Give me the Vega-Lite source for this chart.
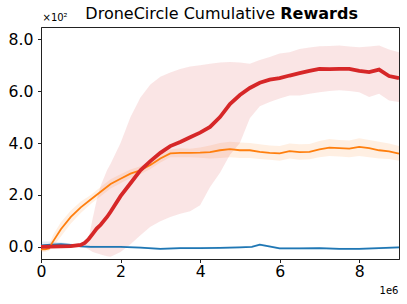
{
  "$schema": "https://vega.github.io/schema/vega-lite/v6.json",
  "width": 358,
  "height": 232,
  "autosize": "none",
  "padding": {"left": 41, "top": 27, "right": 8, "bottom": 45},
  "config": {
    "font": "DejaVu Sans",
    "view": {"stroke": "#222", "strokeWidth": 1},
    "axis": {"grid": false, "domainColor": "#222", "tickColor": "#222", "tickSize": 3.5, "labelFontSize": 15.7, "labelColor": "#000", "labelFont": "DejaVu Sans", "labelFlush": false, "title": null}
  },
  "datasets": {
    "runs": [
      {"s": "Blue", "x": 0, "y": 0.05, "lo": -0.1, "hi": 0.2},
      {"s": "Blue", "x": 0.25, "y": 0.08, "lo": -0.05, "hi": 0.2},
      {"s": "Blue", "x": 0.5, "y": 0.1, "lo": 0.0, "hi": 0.18},
      {"s": "Blue", "x": 0.75, "y": 0.07, "lo": 0.0, "hi": 0.13},
      {"s": "Blue", "x": 1.0, "y": 0.02, "lo": -0.03, "hi": 0.07},
      {"s": "Blue", "x": 1.25, "y": 0.0, "lo": -0.05, "hi": 0.05},
      {"s": "Blue", "x": 1.5, "y": 0.0, "lo": -0.04, "hi": 0.04},
      {"s": "Blue", "x": 2.0, "y": 0.0, "lo": -0.04, "hi": 0.04},
      {"s": "Blue", "x": 2.5, "y": -0.03, "lo": -0.07, "hi": 0.01},
      {"s": "Blue", "x": 3.0, "y": -0.08, "lo": -0.12, "hi": -0.04},
      {"s": "Blue", "x": 3.5, "y": -0.05, "lo": -0.09, "hi": -0.01},
      {"s": "Blue", "x": 4.0, "y": -0.05, "lo": -0.09, "hi": -0.01},
      {"s": "Blue", "x": 4.5, "y": -0.04, "lo": -0.08, "hi": 0.0},
      {"s": "Blue", "x": 5.0, "y": -0.02, "lo": -0.06, "hi": 0.02},
      {"s": "Blue", "x": 5.3, "y": 0.0, "lo": -0.04, "hi": 0.04},
      {"s": "Blue", "x": 5.5, "y": 0.08, "lo": 0.03, "hi": 0.13},
      {"s": "Blue", "x": 5.7, "y": 0.03, "lo": -0.01, "hi": 0.07},
      {"s": "Blue", "x": 6.0, "y": -0.06, "lo": -0.1, "hi": -0.02},
      {"s": "Blue", "x": 6.5, "y": -0.06, "lo": -0.1, "hi": -0.02},
      {"s": "Blue", "x": 7.0, "y": -0.05, "lo": -0.09, "hi": -0.01},
      {"s": "Blue", "x": 7.5, "y": -0.08, "lo": -0.12, "hi": -0.04},
      {"s": "Blue", "x": 8.0, "y": -0.08, "lo": -0.12, "hi": -0.04},
      {"s": "Blue", "x": 8.5, "y": -0.05, "lo": -0.09, "hi": -0.01},
      {"s": "Blue", "x": 9.0, "y": -0.02, "lo": -0.06, "hi": 0.02},

      {"s": "Orange", "x": 0, "y": -0.1, "lo": -0.2, "hi": 0.0},
      {"s": "Orange", "x": 0.1, "y": -0.1, "lo": -0.2, "hi": 0.0},
      {"s": "Orange", "x": 0.2, "y": -0.06, "lo": -0.15, "hi": 0.05},
      {"s": "Orange", "x": 0.3, "y": 0.2, "lo": 0.0, "hi": 0.45},
      {"s": "Orange", "x": 0.5, "y": 0.68, "lo": 0.4, "hi": 0.95},
      {"s": "Orange", "x": 0.75, "y": 1.15, "lo": 0.9, "hi": 1.4},
      {"s": "Orange", "x": 1.0, "y": 1.52, "lo": 1.3, "hi": 1.75},
      {"s": "Orange", "x": 1.25, "y": 1.82, "lo": 1.65, "hi": 2.0},
      {"s": "Orange", "x": 1.5, "y": 2.12, "lo": 1.95, "hi": 2.3},
      {"s": "Orange", "x": 1.75, "y": 2.42, "lo": 2.25, "hi": 2.6},
      {"s": "Orange", "x": 2.0, "y": 2.62, "lo": 2.45, "hi": 2.8},
      {"s": "Orange", "x": 2.25, "y": 2.82, "lo": 2.65, "hi": 2.98},
      {"s": "Orange", "x": 2.5, "y": 2.95, "lo": 2.8, "hi": 3.1},
      {"s": "Orange", "x": 2.75, "y": 3.15, "lo": 3.0, "hi": 3.3},
      {"s": "Orange", "x": 3.0, "y": 3.4, "lo": 3.25, "hi": 3.55},
      {"s": "Orange", "x": 3.25, "y": 3.6, "lo": 3.45, "hi": 3.75},
      {"s": "Orange", "x": 3.5, "y": 3.62, "lo": 3.45, "hi": 3.8},
      {"s": "Orange", "x": 3.75, "y": 3.62, "lo": 3.45, "hi": 3.78},
      {"s": "Orange", "x": 4.0, "y": 3.63, "lo": 3.43, "hi": 3.83},
      {"s": "Orange", "x": 4.25, "y": 3.65, "lo": 3.4, "hi": 3.9},
      {"s": "Orange", "x": 4.5, "y": 3.72, "lo": 3.42, "hi": 4.0},
      {"s": "Orange", "x": 4.75, "y": 3.76, "lo": 3.45, "hi": 4.05},
      {"s": "Orange", "x": 5.0, "y": 3.72, "lo": 3.42, "hi": 4.02},
      {"s": "Orange", "x": 5.25, "y": 3.72, "lo": 3.42, "hi": 4.0},
      {"s": "Orange", "x": 5.5, "y": 3.66, "lo": 3.38, "hi": 3.95},
      {"s": "Orange", "x": 5.75, "y": 3.62, "lo": 3.35, "hi": 3.9},
      {"s": "Orange", "x": 6.0, "y": 3.6, "lo": 3.32, "hi": 3.88},
      {"s": "Orange", "x": 6.25, "y": 3.69, "lo": 3.4, "hi": 3.98},
      {"s": "Orange", "x": 6.5, "y": 3.65, "lo": 3.35, "hi": 3.95},
      {"s": "Orange", "x": 6.75, "y": 3.66, "lo": 3.37, "hi": 3.96},
      {"s": "Orange", "x": 7.0, "y": 3.75, "lo": 3.45, "hi": 4.08},
      {"s": "Orange", "x": 7.25, "y": 3.82, "lo": 3.5, "hi": 4.15},
      {"s": "Orange", "x": 7.5, "y": 3.8, "lo": 3.48, "hi": 4.12},
      {"s": "Orange", "x": 7.75, "y": 3.78, "lo": 3.45, "hi": 4.1},
      {"s": "Orange", "x": 8.0, "y": 3.85, "lo": 3.5, "hi": 4.18},
      {"s": "Orange", "x": 8.25, "y": 3.8, "lo": 3.45, "hi": 4.12},
      {"s": "Orange", "x": 8.5, "y": 3.72, "lo": 3.4, "hi": 4.05},
      {"s": "Orange", "x": 8.75, "y": 3.68, "lo": 3.38, "hi": 3.98},
      {"s": "Orange", "x": 9.0, "y": 3.59, "lo": 3.32, "hi": 3.88},

      {"s": "Red", "x": 0, "y": 0.0, "lo": -0.05, "hi": 0.05},
      {"s": "Red", "x": 0.25, "y": 0.01, "lo": -0.05, "hi": 0.07},
      {"s": "Red", "x": 0.5, "y": 0.02, "lo": -0.04, "hi": 0.08},
      {"s": "Red", "x": 0.75, "y": 0.03, "lo": -0.03, "hi": 0.09},
      {"s": "Red", "x": 1.0, "y": 0.07, "lo": 0.0, "hi": 0.14},
      {"s": "Red", "x": 1.1, "y": 0.15, "lo": -0.02, "hi": 0.2},
      {"s": "Red", "x": 1.2, "y": 0.3, "lo": -0.1, "hi": 0.35},
      {"s": "Red", "x": 1.3, "y": 0.5, "lo": -0.2, "hi": 1.1},
      {"s": "Red", "x": 1.4, "y": 0.7, "lo": -0.25, "hi": 1.8},
      {"s": "Red", "x": 1.5, "y": 0.85, "lo": -0.3, "hi": 2.35},
      {"s": "Red", "x": 1.66, "y": 1.15, "lo": -0.36, "hi": 2.95},
      {"s": "Red", "x": 1.75, "y": 1.35, "lo": -0.38, "hi": 3.2},
      {"s": "Red", "x": 2.0, "y": 1.95, "lo": -0.2, "hi": 4.0},
      {"s": "Red", "x": 2.25, "y": 2.45, "lo": 0.1, "hi": 5.0},
      {"s": "Red", "x": 2.5, "y": 2.95, "lo": 0.45, "hi": 5.75},
      {"s": "Red", "x": 2.75, "y": 3.3, "lo": 0.77, "hi": 6.25},
      {"s": "Red", "x": 3.0, "y": 3.62, "lo": 0.98, "hi": 6.55},
      {"s": "Red", "x": 3.25, "y": 3.88, "lo": 1.15, "hi": 6.72},
      {"s": "Red", "x": 3.5, "y": 4.04, "lo": 1.27, "hi": 6.85},
      {"s": "Red", "x": 3.75, "y": 4.22, "lo": 1.37, "hi": 6.95},
      {"s": "Red", "x": 4.0, "y": 4.4, "lo": 1.6, "hi": 7.0},
      {"s": "Red", "x": 4.25, "y": 4.62, "lo": 2.3, "hi": 7.05},
      {"s": "Red", "x": 4.5, "y": 5.0, "lo": 2.85, "hi": 7.1},
      {"s": "Red", "x": 4.75, "y": 5.5, "lo": 3.55, "hi": 7.12},
      {"s": "Red", "x": 5.0, "y": 5.85, "lo": 4.0, "hi": 7.1},
      {"s": "Red", "x": 5.25, "y": 6.12, "lo": 4.95, "hi": 7.05},
      {"s": "Red", "x": 5.5, "y": 6.32, "lo": 5.42, "hi": 7.2},
      {"s": "Red", "x": 5.75, "y": 6.44, "lo": 5.58, "hi": 7.31},
      {"s": "Red", "x": 6.0, "y": 6.5, "lo": 5.71, "hi": 7.45},
      {"s": "Red", "x": 6.25, "y": 6.6, "lo": 5.83, "hi": 7.5},
      {"s": "Red", "x": 6.5, "y": 6.69, "lo": 5.83, "hi": 7.62},
      {"s": "Red", "x": 6.75, "y": 6.78, "lo": 5.9, "hi": 7.68},
      {"s": "Red", "x": 7.0, "y": 6.86, "lo": 5.96, "hi": 7.73},
      {"s": "Red", "x": 7.25, "y": 6.85, "lo": 6.0, "hi": 7.74},
      {"s": "Red", "x": 7.5, "y": 6.86, "lo": 6.03, "hi": 7.76},
      {"s": "Red", "x": 7.75, "y": 6.86, "lo": 6.0, "hi": 7.72},
      {"s": "Red", "x": 8.0, "y": 6.78, "lo": 5.96, "hi": 7.69},
      {"s": "Red", "x": 8.25, "y": 6.73, "lo": 5.77, "hi": 7.72},
      {"s": "Red", "x": 8.5, "y": 6.83, "lo": 5.9, "hi": 7.76},
      {"s": "Red", "x": 8.75, "y": 6.58, "lo": 5.64, "hi": 7.6},
      {"s": "Red", "x": 9.0, "y": 6.5, "lo": 5.58, "hi": 7.5}
    ]
  },
  "data": {"name": "runs"},
  "encoding": {
    "x": {"field": "x", "type": "quantitative", "scale": {"domain": [0, 9], "nice": false, "zero": false},
          "axis": {"values": [0, 2, 4, 6, 8], "format": "d", "labelPadding": 2}}
  },
  "layer": [
    {
      "mark": {"type": "area", "opacity": 0.12},
      "encoding": {
        "y": {"field": "lo", "type": "quantitative", "scale": {"domain": [-0.47, 8.47], "nice": false, "zero": false},
              "axis": {"values": [0, 2, 4, 6, 8], "format": ".1f", "labelPadding": 4.5}},
        "y2": {"field": "hi"},
        "color": {"field": "s", "type": "nominal", "scale": {"domain": ["Blue", "Orange", "Red"], "range": ["#1f77b4", "#ff7f0e", "#d62728"]}, "legend": null}
      }
    },
    {
      "transform": [{"filter": "datum.s === 'Blue'"}],
      "mark": {"type": "line", "color": "#1f77b4", "strokeWidth": 1.8},
      "encoding": {"y": {"field": "y", "type": "quantitative"}}
    },
    {
      "transform": [{"filter": "datum.s === 'Orange'"}],
      "mark": {"type": "line", "color": "#ff7f0e", "strokeWidth": 1.8},
      "encoding": {"y": {"field": "y", "type": "quantitative"}}
    },
    {
      "transform": [{"filter": "datum.s === 'Red'"}],
      "mark": {"type": "line", "color": "#d62728", "strokeWidth": 3.8},
      "encoding": {"y": {"field": "y", "type": "quantitative"}}
    },
    {
      "data": {"values": [{"t": "DroneCircle Cumulative"}]},
      "mark": {"type": "text", "font": "DejaVu Sans", "fontSize": 16, "align": "right", "baseline": "alphabetic", "color": "#000"},
      "encoding": {"text": {"field": "t"}, "x": {"value": 234}, "y": {"value": -7.7}}
    },
    {
      "data": {"values": [{"t": "Rewards"}]},
      "mark": {"type": "text", "font": "DejaVu Sans", "fontSize": 16, "fontWeight": "bold", "align": "left", "baseline": "alphabetic", "color": "#000"},
      "encoding": {"text": {"field": "t"}, "x": {"value": 239.3}, "y": {"value": -7.7}}
    },
    {
      "data": {"values": [{"t": "×10²"}]},
      "mark": {"type": "text", "font": "DejaVu Sans", "fontSize": 10, "align": "left", "baseline": "alphabetic", "color": "#000"},
      "encoding": {"text": {"field": "t"}, "x": {"value": 1.5}, "y": {"value": -5.7}}
    },
    {
      "data": {"values": [{"t": "1e6"}]},
      "mark": {"type": "text", "font": "DejaVu Sans", "fontSize": 10, "align": "right", "baseline": "alphabetic", "color": "#000"},
      "encoding": {"text": {"field": "t"}, "x": {"value": 357.5}, "y": {"value": 267.3}}
    }
  ]
}
